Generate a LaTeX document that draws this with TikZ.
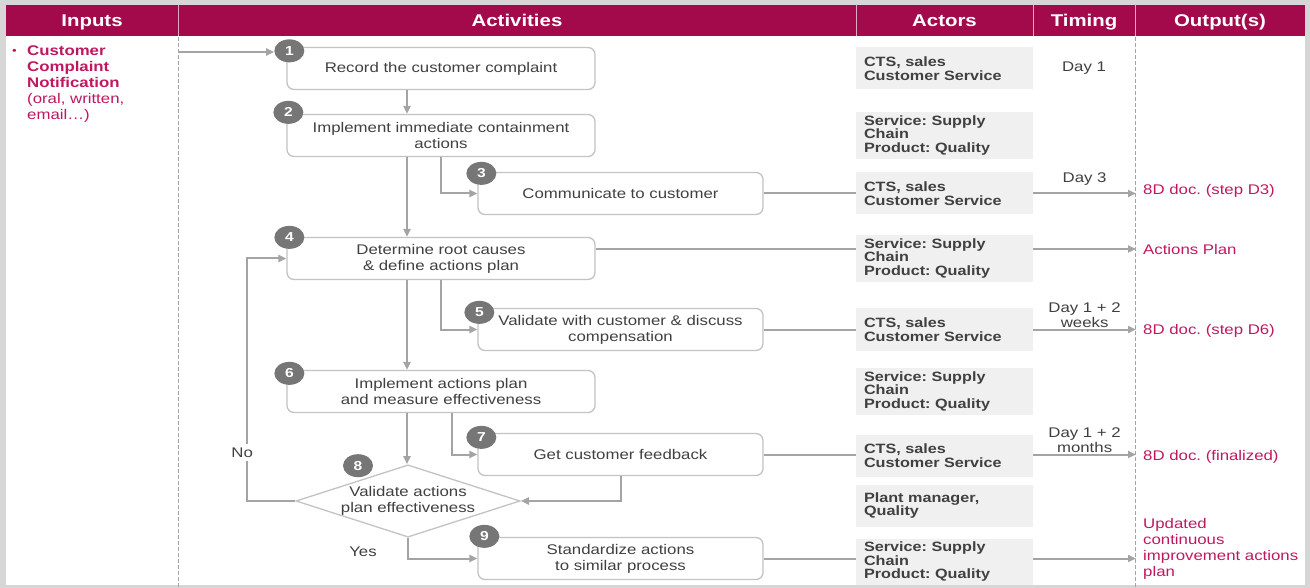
\documentclass[tikz,border=0pt]{standalone}
\usepackage{fontspec}
\setmainfont{Liberation Sans}[FakeStretch=1.2]
\usepackage{tikz}
\usetikzlibrary{arrows.meta,shapes.geometric,positioning}
\frenchspacing

\definecolor{berry}{RGB}{163,10,75}
\definecolor{berrytext}{RGB}{192,24,96}
\definecolor{linegrey}{RGB}{164,164,164}
\definecolor{boxgrey}{RGB}{195,195,195}
\definecolor{numgrey}{RGB}{118,118,118}
\definecolor{actorfill}{RGB}{240,240,240}
\definecolor{textgrey}{RGB}{64,64,64}
\definecolor{framegrey}{RGB}{214,214,214}

\newcommand{\boxfont}{\fontsize{14}{16}\selectfont}
\newcommand{\actorfont}{\bfseries\fontsize{13.5}{13.5}\selectfont}

\begin{document}
\begin{tikzpicture}[x=1pt,y=1pt,>={Triangle[length=8pt,width=7pt]},
    step node/.style={rectangle,rounded corners=7pt,draw=boxgrey,line width=1.3pt,fill=white,
      minimum height=42pt,align=center,text=textgrey,font=\boxfont},
    wide step/.style={minimum width=308pt},
    narrow step/.style={minimum width=285pt},
    decision node/.style={diamond,draw=boxgrey,line width=1.3pt,fill=white,aspect=3.1,
      minimum width=222pt,minimum height=71pt,inner sep=0pt,align=center,text=textgrey,font=\boxfont},
    num node/.style={ellipse,fill=numgrey,minimum width=30pt,minimum height=23pt,inner sep=0pt,
      text=white,font=\bfseries\fontsize{13}{13}\selectfont},
    actor node/.style={rectangle,fill=actorfill,minimum width=177pt,minimum height=42pt,
      text width=161pt,inner xsep=8pt,align=left,text=textgrey,font=\actorfont},
    out node/.style={anchor=west,inner sep=0pt,align=left,text=berrytext,font=\boxfont},
    head node/.style={anchor=base,text=white,font=\bfseries\fontsize{17}{17}\selectfont},
    flow/.style={draw=linegrey,line width=2pt}]
% Frame and header band
\fill[framegrey] (0,0) rectangle (1310,-588);
\fill[white] (6,-5) rectangle (1305,-585);
\useasboundingbox (0,0) rectangle (1310,-588);
\fill[berry] (6,-5) rectangle (1305,-36);
\draw[white!65!berry,line width=0.8pt] (178,-5) -- (178,-36) (856,-5) -- (856,-36)
  (1033,-5) -- (1033,-36) (1135,-5) -- (1135,-36);
\draw[linegrey,line width=0.8pt,dash pattern=on 4pt off 2pt] (178,-37) -- (178,-588)
  (1135,-37) -- (1135,-588);

\node[head node] (hin) at (92,-26.5) {Inputs};
\node[head node] (hact) at (517,-26.5) {Activities};
\node[head node] (hactor) at (944.5,-26.5) {Actors};
\node[head node] (htime) at (1084,-26.5) {Timing};
\node[head node] (hout) at (1220,-26.5) {Output(s)};

% Input
\node[out node,anchor=north west] (inp) at (27,-46) {\textbf{Customer}\\\textbf{Complaint}\\\textbf{Notification}\\(oral, written,\\email…)};
\node[out node,anchor=east,font=\fontsize{11}{11}\selectfont] (bul) at (17,-51.5) {•};

% Activities
\node[step node,wide step] (s1) at (441,-68.5) {Record the customer complaint};
\node[step node,wide step] (s2) [node distance=67pt,below of=s1] {Implement immediate containment\\actions};
\node[step node,narrow step] (s3) [node distance=58pt,below of=s2,xshift=179.5pt] {Communicate to customer};
\node[step node,wide step] (s4) [node distance=123pt,below of=s2] {Determine root causes\\\& define actions plan};
\node[step node,narrow step] (s5) [node distance=71pt,below of=s4,xshift=179.5pt] {Validate with customer \& discuss\\compensation};
\node[step node,wide step] (s6) [node distance=133pt,below of=s4] {Implement actions plan\\and measure effectiveness};
\node[step node,narrow step] (s7) [node distance=63pt,below of=s6,xshift=179.5pt] {Get customer feedback};
\node[decision node] (s8) [node distance=109.5pt,below of=s6,xshift=-33pt] {Validate actions\\plan effectiveness};
\node[step node,narrow step] (s9) [node distance=104pt,below of=s7] {Standardize actions\\to similar process};

\node[num node] (n1) at ([xshift=3pt,yshift=-4pt]s1.north west) {1};
\node[num node] (n2) at ([xshift=2pt,yshift=1.5pt]s2.north west) {2};
\node[num node] (n3) at ([xshift=4pt,yshift=-1.5pt]s3.north west) {3};
\node[num node] (n4) at ([xshift=3pt,yshift=-0.5pt]s4.north west) {4};
\node[num node] (n5) at ([xshift=2pt,yshift=-4.5pt]s5.north west) {5};
\node[num node] (n6) at ([xshift=3pt,yshift=-3.5pt]s6.north west) {6};
\node[num node] (n7) at ([xshift=4pt,yshift=-4.5pt]s7.north west) {7};
\node[num node] (n8) at ([xshift=-50pt,yshift=-1.5pt]s8.north) {8};
\node[num node] (n9) at ([xshift=7pt,yshift=0.5pt]s9.north west) {9};

% Actors and timing
\node[actor node] (a1) [node distance=503.5pt,right of=s1] {CTS, sales\\Customer Service};
\node[actor node] (a2) [node distance=503.5pt,right of=s2] {Service: Supply\\Chain\\Product: Quality};
\node[actor node] (a3) [node distance=324pt,right of=s3] {CTS, sales\\Customer Service};
\node[actor node] (a4) [node distance=503.5pt,right of=s4] {Service: Supply\\Chain\\Product: Quality};
\node[actor node] (a5) [node distance=324pt,right of=s5] {CTS, sales\\Customer Service};
\node[actor node] (a6) [node distance=503.5pt,right of=s6] {Service: Supply\\Chain\\Product: Quality};
\node[actor node] (a7) [node distance=324pt,right of=s7,yshift=-1pt] {CTS, sales\\Customer Service};
\node[actor node] (a8) [node distance=536.5pt,right of=s8,yshift=-4.5pt] {Plant manager,\\Quality};
\node[actor node] (a9) [node distance=324pt,right of=s9,yshift=-3.5pt] {Service: Supply\\Chain\\Product: Quality};
\node[text=textgrey,font=\boxfont] (t1) [node distance=139.5pt,right of=a1] {Day 1};

% Outputs
\coordinate (rim) at (1136,0);
\node[out node] (o3) at (1143,-191) {8D doc. (step D3)};
\node[out node] (o4) at (1143,-249) {Actions Plan};
\node[out node] (o5) at (1143,-331) {8D doc. (step D6)};
\node[out node] (o7) at (1143,-457) {8D doc. (finalized)};
\node[out node] (o9) at (1143,-549) {Updated\\continuous\\improvement actions\\plan};

% Flow between activities
\coordinate (start) at (178,-52);
\draw[flow,->] (start) -- (start -| n1.west);
\draw[flow,->] ([xshift=-34pt]s1.south) -- ([xshift=-34pt]s2.north);
\draw[flow,->] ([xshift=-34pt]s2.south) -- ([xshift=-34pt]s4.north);
\draw[flow,->] ([xshift=-34pt]s4.south) -- ([xshift=-34pt]s6.north);
\draw[flow,->] ([xshift=-34pt]s6.south) -- ([xshift=-34pt]s6.south |- s8.north);
\draw[flow,->] (s2.south) |- (s3.west);
\draw[flow,->] (s4.south) |- (s5.west);
\draw[flow,->] ([xshift=11pt]s6.south) |- (s7.west);
\draw[flow,->] (s7.south) |- (s8.east);
\draw[flow,->] (s8.west) -- ++(-48pt,0) |- node[pos=0.1,xshift=-5pt,fill=white,text=textgrey,font=\boxfont] (no) {No} (s4.west);
\draw[flow,->] (s8.south) |- node[pos=0.33,left=27pt,text=textgrey,font=\boxfont] (yes) {Yes} (s9.west);

% Links to actors and outputs
\coordinate (r4) at ([yshift=9.5pt]s4.east);
\path[every edge/.append style={flow}]
(s3.east) edge (s3.east -| a3.west)
(r4) edge (r4 -| a4.west)
(s5.east) edge (s5.east -| a5.west)
(s7.east) edge (s7.east -| a7.west)
(s9.east) edge (s9.east -| a9.west);
\path[every edge/.append style={flow,->},every node/.style={text=textgrey,align=center,font=\fontsize{14}{15}\selectfont}]
(s3.east -| a3.east) edge node[above,yshift=4pt] (t3) {Day 3} (s3.east -| rim)
(r4 -| a4.east) edge (r4 -| rim)
(s5.east -| a5.east) edge node[above,inner sep=1pt] (t5) {Day 1 + 2\\weeks} (s5.east -| rim)
(s7.east -| a7.east) edge node[above,inner sep=1pt] (t7) {Day 1 + 2\\months} (s7.east -| rim)
(s9.east -| a9.east) edge (s9.east -| rim);
\end{tikzpicture}
\end{document}
